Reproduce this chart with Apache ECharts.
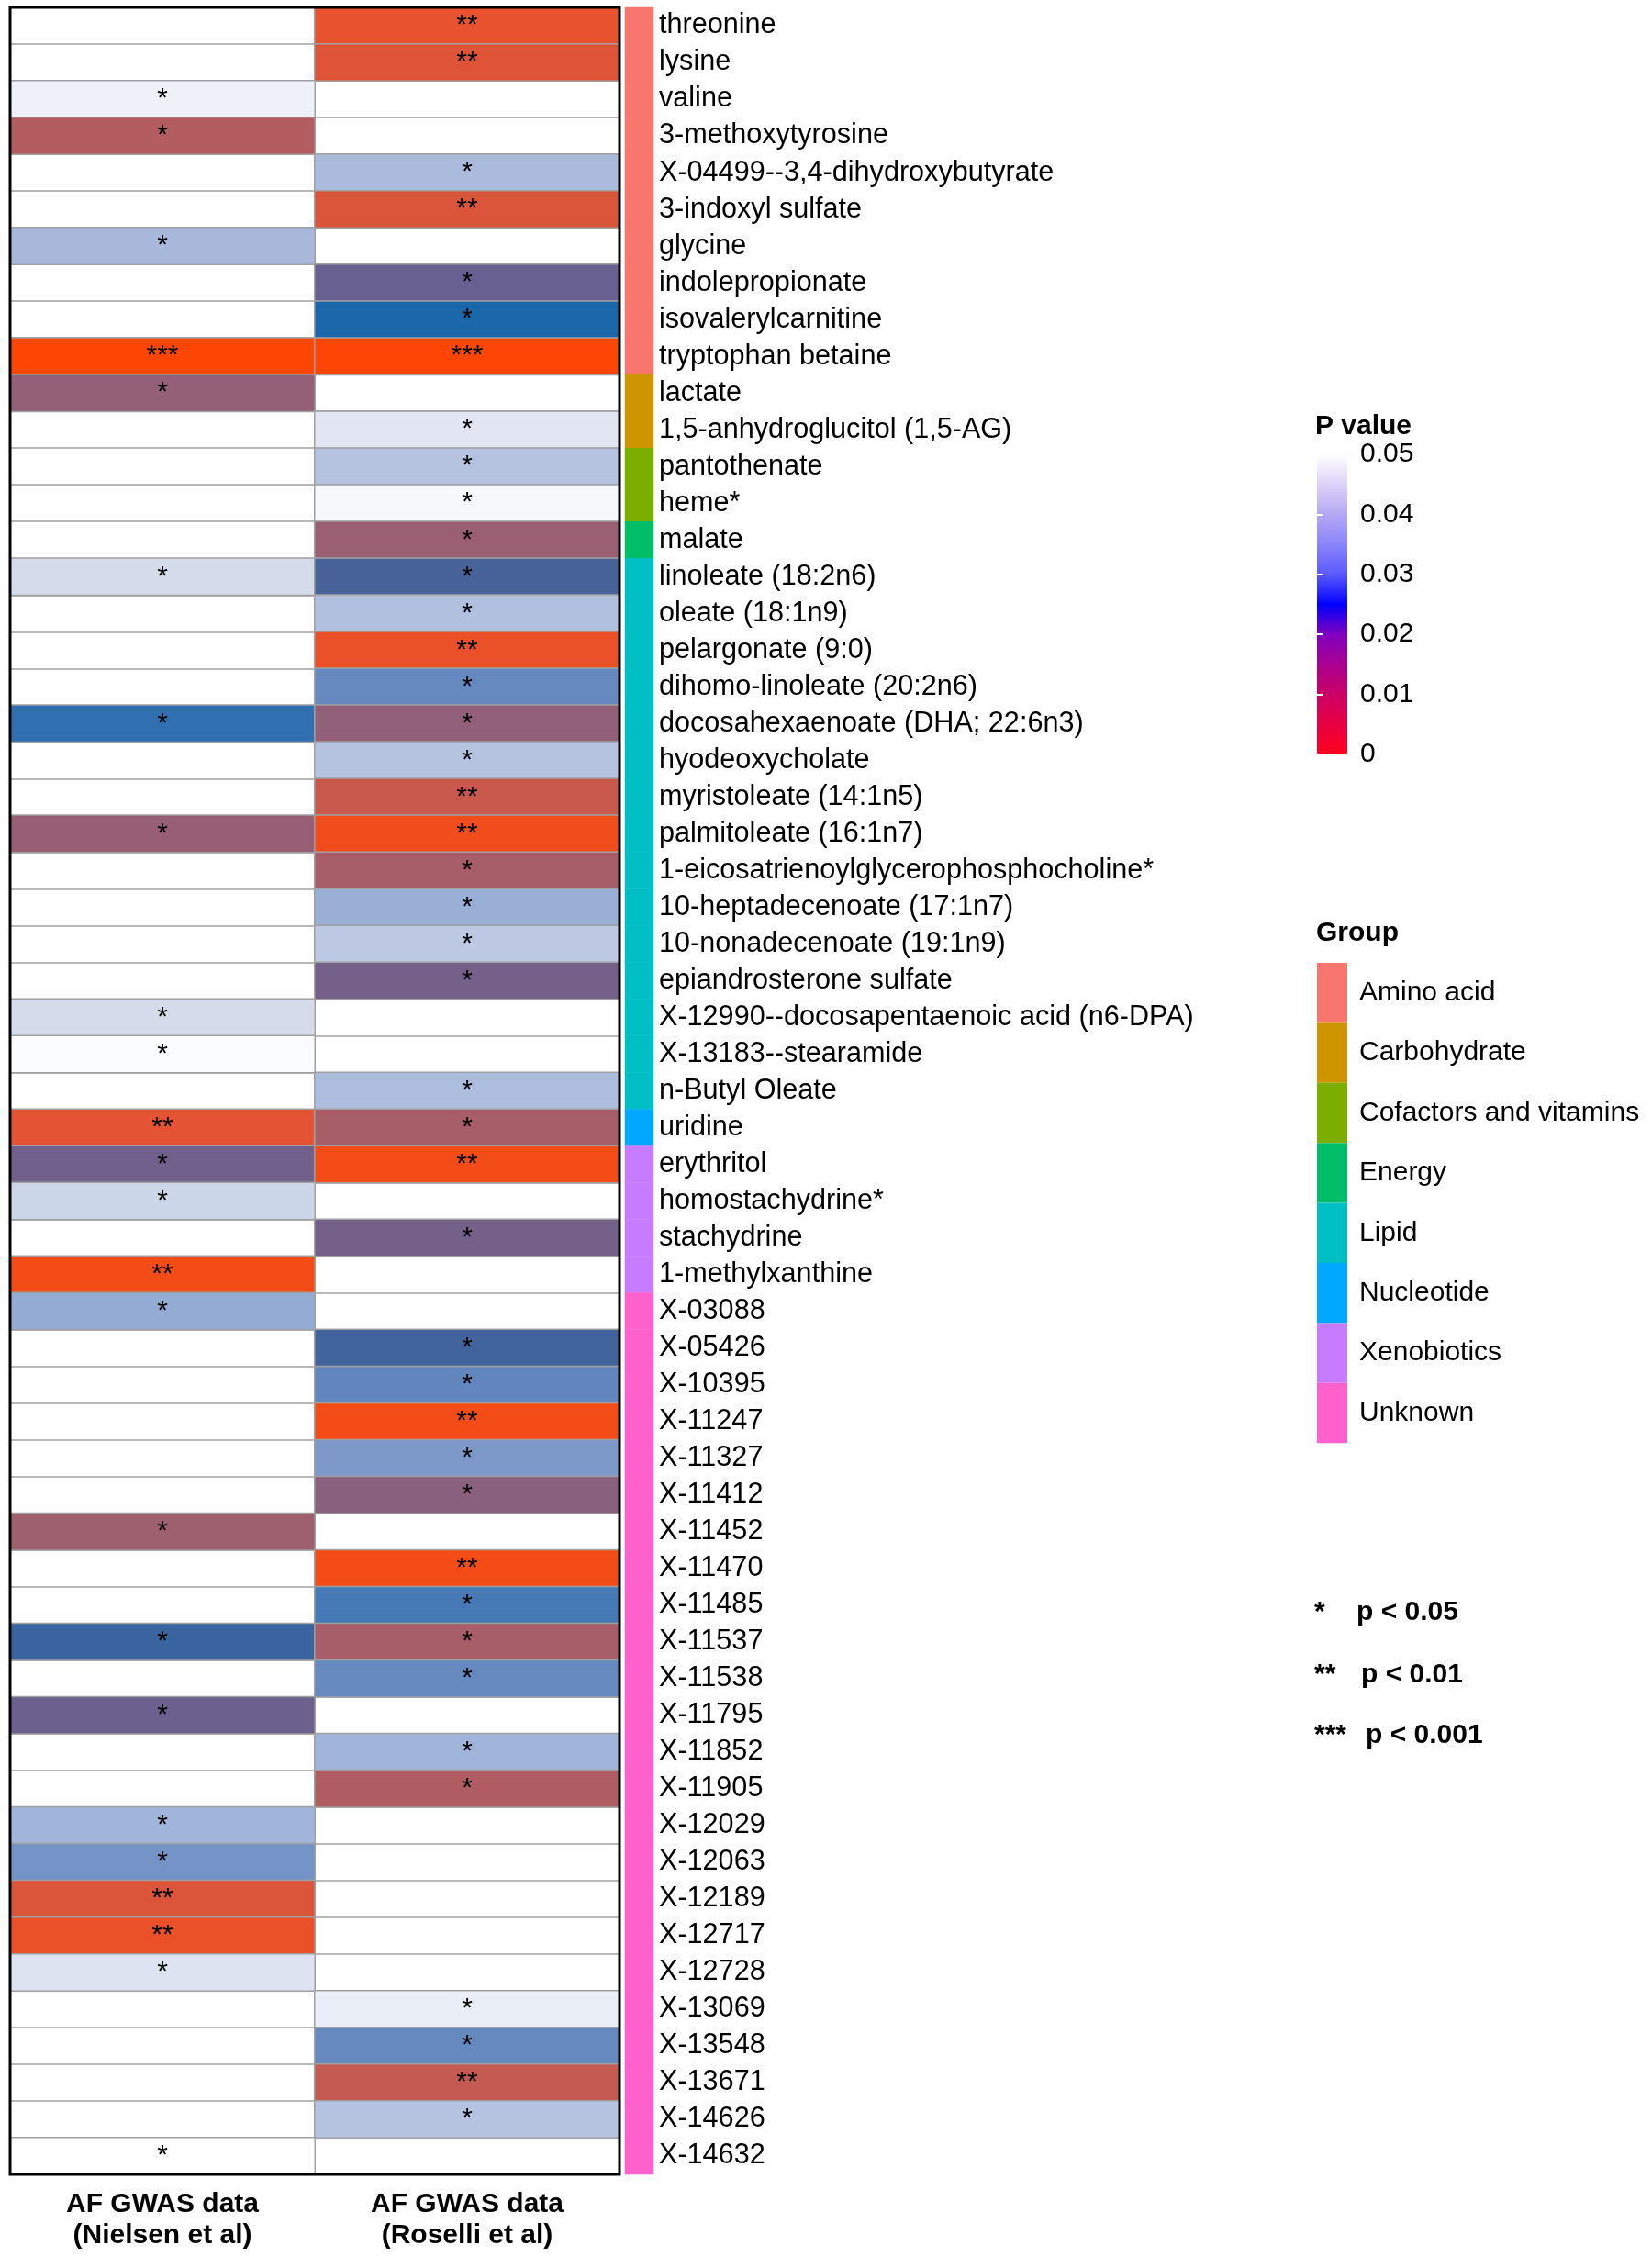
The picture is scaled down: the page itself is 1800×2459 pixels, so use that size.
<!DOCTYPE html>
<html><head><meta charset="utf-8">
<script src="https://cdn.jsdelivr.net/npm/echarts@6/dist/echarts.min.js"></script>
<style>html,body{margin:0;padding:0;background:#fff}#c{width:1800px;height:2459px}</style>
</head><body><div id="c"></div>
<script>
// ---------------- data ----------------
const metabolites = [
  'threonine','lysine','valine','3-methoxytyrosine','X-04499--3,4-dihydroxybutyrate',
  '3-indoxyl sulfate','glycine','indolepropionate','isovalerylcarnitine','tryptophan betaine',
  'lactate','1,5-anhydroglucitol (1,5-AG)','pantothenate','heme*','malate',
  'linoleate (18:2n6)','oleate (18:1n9)','pelargonate (9:0)','dihomo-linoleate (20:2n6)','docosahexaenoate (DHA; 22:6n3)',
  'hyodeoxycholate','myristoleate (14:1n5)','palmitoleate (16:1n7)','1-eicosatrienoylglycerophosphocholine*','10-heptadecenoate (17:1n7)',
  '10-nonadecenoate (19:1n9)','epiandrosterone sulfate','X-12990--docosapentaenoic acid (n6-DPA)','X-13183--stearamide','n-Butyl Oleate',
  'uridine','erythritol','homostachydrine*','stachydrine','1-methylxanthine',
  'X-03088','X-05426','X-10395','X-11247','X-11327',
  'X-11412','X-11452','X-11470','X-11485','X-11537',
  'X-11538','X-11795','X-11852','X-11905','X-12029',
  'X-12063','X-12189','X-12717','X-12728','X-13069',
  'X-13548','X-13671','X-14626','X-14632'
];
const columns = ['AF GWAS data\n(Nielsen et al)', 'AF GWAS data\n(Roselli et al)'];
// P values (null = not significant, left blank)
const nielsenP = [
  null, null, 0.048, 0.011, null,
  null, 0.039, null, null, 0.0004,
  0.0148, null, null, null, null,
  0.045, null, null, null, 0.0265,
  null, null, 0.0143, null, null,
  null, null, 0.045, 0.0495, null,
  0.0055, 0.019, 0.044, null, 0.0025,
  0.036, null, null, null, null,
  null, 0.0135, null, null, 0.023,
  null, 0.0195, null, null, 0.038,
  0.032, 0.0065, 0.0045, 0.046, null,
  null, null, null, 0.0499
];
const roselliP = [
  0.005, 0.006, null, null, 0.0395,
  0.0065, null, 0.020, 0.025, 0.0005,
  null, 0.0465, 0.041, 0.049, 0.014,
  0.022, 0.0405, 0.0045, 0.0305, 0.015,
  0.041, 0.0085, 0.003, 0.0123, 0.037,
  0.042, 0.0185, null, null, 0.040,
  0.0123, 0.0025, null, 0.0185, null,
  null, 0.0225, 0.030, 0.0025, 0.033,
  0.016, null, 0.0025, 0.028, 0.0125,
  0.0305, null, 0.038, 0.0115, null,
  null, null, null, null, 0.0475,
  0.0305, 0.009, 0.041, null
];
const groupNames = ['Amino acid','Carbohydrate','Cofactors and vitamins','Energy','Lipid','Nucleotide','Xenobiotics','Unknown'];
const groupColors = ['#F8766D','#CD9600','#7CAE00','#00BE67','#00BFC4','#00A9FF','#C77CFF','#FF61CC'];
const rowGroup = [
  0,0,0,0,0,0,0,0,0,0,
  1,1,
  2,2,
  3,
  4,4,4,4,4,4,4,4,4,4,4,4,4,4,4,
  5,
  6,6,6,6,
  7,7,7,7,7,7,7,7,7,7,7,7,7,7,7,7,7,7,7,7,7,7,7,7
];
const pTicks = [0, 0.01, 0.02, 0.03, 0.04, 0.05];
const sigKey = [['*', 'p < 0.05'], ['**', 'p < 0.01'], ['***', 'p < 0.001']];

// ---------------- colours ----------------
const cellColors = ['#ff4500','#e8522e','#bb5c5a','#926078','#676090','#1a67aa','#6286be','#8ea6d2','#adbddd','#d4dcec','#ffffff'];
const legendColors = ['#ff0020','#e80040','#cc0066','#aa0090','#8000c0','#0000ff','#5a5aff','#8a84fa','#b4a8f4','#dcd2f8','#ffffff'];

// ---------------- build ----------------
const FONT = '"Liberation Sans", Arial, Helvetica, sans-serif';
const cellData = [];
metabolites.forEach((m, i) => {
  if (nielsenP[i] != null) cellData.push([0, i, nielsenP[i]]);
  if (roselliP[i] != null) cellData.push([1, i, roselliP[i]]);
});
const groupData = metabolites.map((m, i) => [0, i, rowGroup[i]]);

function stars(v) { return v < 0.001 ? '***' : v < 0.01 ? '**' : v < 0.05 ? '*' : ''; }

const keyY = [1757, 1825, 1891];
const keyPX = [1478, 1483, 1488];
const graphic = [
  {type:'text', x:1433, y:465, z:20, style:{text:'P value', font:'bold 30px ' + FONT, fill:'#000', verticalAlign:'middle'}},
  {type:'text', x:1434, y:1017, z:20, style:{text:'Group', font:'bold 30px ' + FONT, fill:'#000', verticalAlign:'middle'}}
];
sigKey.forEach((k, i) => {
  graphic.push({type:'text', x:1432, y:keyY[i], z:20, style:{text:k[0], font:'bold 30px ' + FONT, fill:'#000', verticalAlign:'middle'}});
  graphic.push({type:'text', x:keyPX[i], y:keyY[i], z:20, style:{text:k[1], font:'bold 30px ' + FONT, fill:'#000', verticalAlign:'middle'}});
});

const chart = echarts.init(document.getElementById('c'), null, {renderer:'canvas'});
chart.setOption({
  backgroundColor:'#fff',
  animation:false,
  textStyle:{fontFamily:FONT},
  graphic: graphic,
  grid:[
    {left:11, top:8, width:664, height:2361, show:true, borderColor:'#000', borderWidth:3, backgroundColor:'transparent', z:10},
    {left:681, top:8, width:31, height:2361},
    {left:1435, top:495, width:33, height:327}
  ],
  xAxis:[
    {gridIndex:0, type:'category', data:columns, position:'bottom',
      axisLine:{show:false}, axisTick:{show:false},
      splitLine:{show:true, interval:0, lineStyle:{color:'#a0a0a0', width:1.5}},
      axisLabel:{interval:0, fontSize:30, fontWeight:'bold', color:'#000', lineHeight:34, margin:16, fontFamily:FONT}},
    {gridIndex:1, type:'category', data:['group'], show:false},
    {gridIndex:2, type:'value', min:0, max:1, show:false}
  ],
  yAxis:[
    {gridIndex:0, type:'category', data:metabolites, inverse:true,
      axisLine:{show:false}, axisTick:{show:false}, axisLabel:{show:false},
      splitLine:{show:true, interval:0, lineStyle:{color:'#a0a0a0', width:1.5}}},
    {gridIndex:1, type:'category', data:metabolites, inverse:true, position:'right',
      axisLine:{show:false}, axisTick:{show:false},
      axisLabel:{interval:0, fontSize:30.6, color:'#000', margin:6, fontFamily:FONT}},
    {gridIndex:2, type:'value', min:0, max:0.05, interval:0.01, position:'right', z:10,
      axisLine:{show:false}, splitLine:{show:false},
      axisTick:{show:true, inside:true, length:7, lineStyle:{color:'#fff', width:2}},
      axisLabel:{fontSize:30, color:'#000', margin:14, fontFamily:FONT,
        formatter: v => pTicks.indexOf(v) >= 0 ? String(v) : ''}},
    {gridIndex:2, type:'value', min:0, max:0.05, interval:0.01, position:'left', z:10,
      axisLine:{show:false}, splitLine:{show:false}, axisLabel:{show:false},
      axisTick:{show:true, inside:true, length:7, lineStyle:{color:'#fff', width:2}}}
  ],
  visualMap:[
    {type:'continuous', show:false, seriesIndex:0, dimension:2, min:0, max:0.05, inRange:{color:cellColors}},
    {type:'piecewise', seriesIndex:1, dimension:2, orient:'vertical', inverse:true, align:'left',
      left:1435, top:1049, padding:0, itemWidth:33, itemHeight:65.4, itemGap:0, itemSymbol:'rect',
      textGap:13, selectedMode:false, hoverLink:false,
      textStyle:{fontSize:30, color:'#000', fontFamily:FONT},
      pieces: groupNames.map((g, i) => ({value:i, label:g, color:groupColors[i]}))},
    {type:'continuous', seriesIndex:2, min:0, max:0.05, left:1435, top:495, padding:0,
      itemWidth:33, itemHeight:327, calculable:false, hoverLink:false, z:4,
      inRange:{color:legendColors}}
  ],
  series:[
    {type:'heatmap', xAxisIndex:0, yAxisIndex:0, data:cellData,
      itemStyle:{borderColor:'#a0a0a0', borderWidth:1.5},
      label:{show:true, color:'#000', fontSize:30, fontFamily:FONT, formatter: p => stars(p.value[2])},
      emphasis:{disabled:true}},
    {type:'heatmap', xAxisIndex:1, yAxisIndex:1, data:groupData, emphasis:{disabled:true}},
    {type:'scatter', xAxisIndex:2, yAxisIndex:2, data:[], silent:true}
  ]
});
</script>
</body></html>
